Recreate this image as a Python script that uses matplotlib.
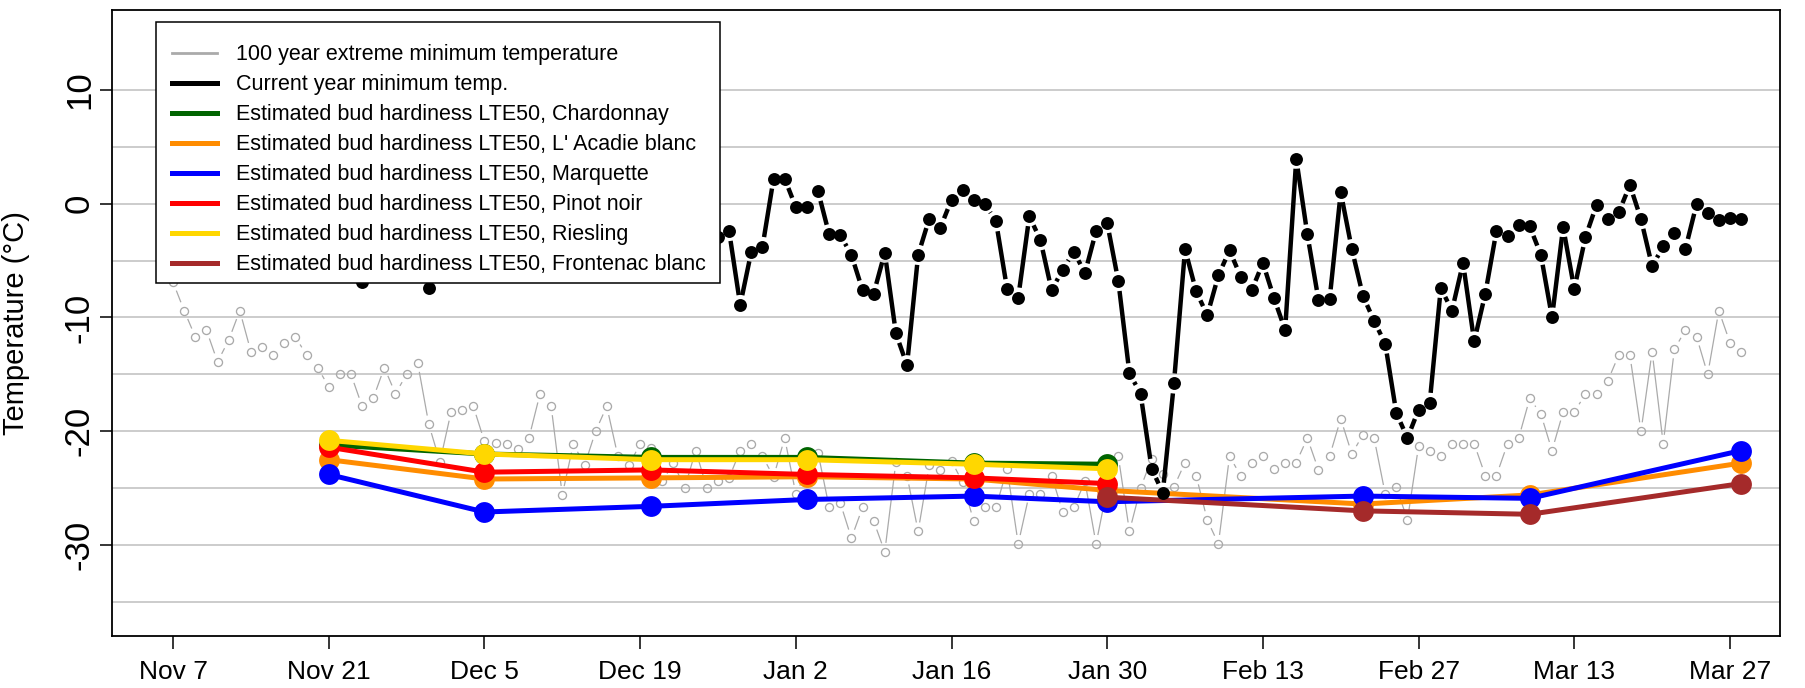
import numpy as np
import pandas as pd
import matplotlib
matplotlib.use("Agg")
import matplotlib.pyplot as plt
import matplotlib.dates as mdates
from matplotlib.lines import Line2D
from matplotlib.collections import LineCollection
from matplotlib.patches import Rectangle
from matplotlib.ticker import FixedLocator

plt.rcParams['font.family'] = ['Liberation Sans', 'DejaVu Sans']
plt.rcParams['axes.unicode_minus'] = False

# ---------------- data ----------------
start_date = "2022-11-07"

current_min = [
    -3.5, -1.2, 0.5, -2.0, -4.1, -5.5, -3.0, -1.5, 0.8, 2.1,
    -0.5, -3.2, -5.0, -6.2, -4.0, -2.2, -3.8, -6.9, -5.1, -2.5,
    -0.8, 1.0, -3.6, -7.4, -5.8, -3.1, -1.0, 0.4, -2.3, -4.6,
    -5.9, -3.4, -1.6, -2.8, -4.9, -6.0, -4.2, -2.1, -0.6, 1.5,
    -1.1, -3.5, -5.2, -4.0, -2.6, -1.4, -3.0, -4.4, -3.6, -2.9,
    -2.4, -8.9, -4.2, -3.8, 2.2, 2.2, -0.3, -0.3, 1.1, -2.7,
    -2.75, -4.5, -7.6, -7.9, -4.3, -11.4, -14.2, -4.5, -1.3, -2.1,
    0.35, 1.2, 0.35, 0.0, -1.55, -7.5, -8.25, -1.1, -3.2, -7.6,
    -5.8, -4.2, -6.1, -2.4, -1.7, -6.8, -14.9, -16.7, -23.3, -25.4,
    -15.8, -4.0, -7.7, -9.8, -6.3, -4.1, -6.4, -7.6, -5.2, -8.3,
    -11.1, 3.95, -2.7, -8.45, -8.4, 1.0, -4.0, -8.1, -10.3, -12.3,
    -18.4, -20.6, -18.1, -17.5, -7.4, -9.4, -5.2, -12.1, -7.9, -2.4,
    -2.8, -1.9, -2.0, -4.5, -10.0, -2.05, -7.5, -2.95, -0.1, -1.35,
    -0.76, 1.64, -1.35, -5.5, -3.75, -2.57, -3.95, -0.03, -0.79, -1.4,
    -1.25, -1.35,
]

extreme_min_100yr = [
    -6.9, -9.4, -11.7, -11.1, -13.9, -12.0, -9.4, -13.0, -12.6, -13.3,
    -12.2, -11.7, -13.3, -14.4, -16.1, -15.0, -15.0, -17.8, -17.1, -14.4,
    -16.7, -15.0, -14.0, -19.4, -22.7, -18.3, -18.1, -17.8, -20.9, -21.0,
    -21.1, -21.6, -20.6, -16.7, -17.8, -25.6, -21.1, -23.0, -20.0, -17.8,
    -22.2, -23.0, -21.1, -21.5, -24.4, -22.8, -25.0, -21.7, -25.0, -24.4,
    -24.1, -21.7, -21.1, -22.2, -24.0, -20.6, -25.5, -23.5, -21.9, -26.7,
    -26.3, -29.4, -26.7, -27.9, -30.6, -22.7, -23.9, -28.8, -23.0, -23.4,
    -22.6, -24.5, -27.9, -26.7, -26.7, -23.3, -29.9, -25.5, -25.5, -23.9,
    -27.1, -26.7, -24.4, -29.9, -25.0, -22.2, -28.8, -25.0, -22.4, -23.8,
    -24.9, -22.75, -23.9, -27.8, -29.9, -22.2, -23.9, -22.75, -22.2, -23.3,
    -22.75, -22.75, -20.6, -23.4, -22.2, -18.9, -22.0, -20.3, -20.6, -25.5,
    -24.9, -27.8, -21.3, -21.7, -22.2, -21.1, -21.1, -21.1, -23.9, -23.9,
    -21.1, -20.6, -17.1, -18.5, -21.7, -18.3, -18.3, -16.75, -16.75, -15.6,
    -13.3, -13.3, -20.0, -13.0, -21.1, -12.8, -11.1, -11.7, -15.0, -9.4,
    -12.2, -13.0,
]

hardiness_dates = ["2022-11-21", "2022-12-05", "2022-12-20", "2023-01-03",
                   "2023-01-18", "2023-01-30", "2023-02-22", "2023-03-09",
                   "2023-03-28"]
chardonnay = [-21.2, -22.0, -22.3, -22.3, -22.8, -22.9]
lacadie = [-22.5, -24.2, -24.1, -24.0, -24.2, -25.2, -26.4, -25.6, -22.8]
marquette = [-23.8, -27.1, -26.6, -26.0, -25.7, -26.2, -25.7, -25.9, -21.7]
pinot_noir = [-21.4, -23.6, -23.4, -23.8, -24.1, -24.6]
riesling = [-20.8, -22.0, -22.5, -22.5, -22.9, -23.3]
frontenac_dates = ["2023-01-30", "2023-02-22", "2023-03-09", "2023-03-28"]
frontenac = [-25.8, -27.0, -27.3, -24.6]

tick_dates = ["2022-11-07", "2022-11-21", "2022-12-05", "2022-12-19",
              "2023-01-02", "2023-01-16", "2023-01-30", "2023-02-13",
              "2023-02-27", "2023-03-13", "2023-03-27"]
tick_labels = ["Nov 7", "Nov 21", "Dec 5", "Dec 19", "Jan 2", "Jan 16",
               "Jan 30", "Feb 13", "Feb 27", "Mar 13", "Mar 27"]

legend_labels = [
    "100 year extreme minimum temperature",
    "Current year minimum temp.",
    "Estimated bud hardiness LTE50, Chardonnay",
    "Estimated bud hardiness LTE50, L' Acadie blanc",
    "Estimated bud hardiness LTE50, Marquette",
    "Estimated bud hardiness LTE50, Pinot noir",
    "Estimated bud hardiness LTE50, Riesling",
    "Estimated bud hardiness LTE50, Frontenac blanc",
]

# ---------------- figure ----------------
W, H = 1805, 688
fig = plt.figure(figsize=(W / 100, H / 100), dpi=100)
ax = fig.add_axes([112 / W, (H - 636) / H, (1780 - 112) / W, (636 - 10) / H])

t0 = pd.Timestamp(start_date)
days = pd.date_range(start_date, periods=len(current_min), freq="D")
xd = mdates.date2num(days)
x_ext = mdates.date2num(pd.date_range(start_date, periods=len(extreme_min_100yr), freq="D"))
xh = mdates.date2num(pd.to_datetime(hardiness_dates))
xf = mdates.date2num(pd.to_datetime(frontenac_dates))

x0 = mdates.date2num(t0)
ax.set_xlim(x0 - 5.49, x0 + 144.5)
ax.set_ylim(-38.0, 17.03)

# grid
ax.set_yticks([-30, -20, -10, 0, 10])
ax.yaxis.set_minor_locator(FixedLocator([-35, -25, -15, -5, 5]))
ax.grid(axis='y', which='both', color='#c8c8c8', lw=1.3)
ax.tick_params(axis='y', which='minor', length=0)
ax.set_axisbelow(True)


def gapped(xs, ys, gap, **kw):
    pts = ax.transData.transform(np.column_stack([xs, ys]))
    inv = ax.transData.inverted()
    segs = []
    for p0, p1 in zip(pts[:-1], pts[1:]):
        v = p1 - p0
        L = np.hypot(v[0], v[1])
        if L > 2 * gap:
            u = v / L
            seg = np.array([p0 + u * gap, p1 - u * gap])
            segs.append(inv.transform(seg))
    lc = LineCollection(segs, **kw)
    ax.add_collection(lc)


grey = '#aaaaaa'
# 100-year extreme minimum: thin line with open circles (gapped)
gapped(x_ext, extreme_min_100yr, 9, colors=grey, linewidths=0.9, zorder=2)
ax.plot(x_ext, extreme_min_100yr, 'o', ls='none', mfc='none', mec=grey,
        ms=5.8, mew=0.95, zorder=2.1)

# hardiness series
series = [
    (xh[:len(chardonnay)], chardonnay, '#006400'),
    (xh, lacadie, '#ff8c00'),
    (xh, marquette, '#0000ff'),
    (xh[:len(pinot_noir)], pinot_noir, '#ff0000'),
    (xh[:len(riesling)], riesling, '#ffd700'),
    (xf, frontenac, '#a52a2a'),
]
z = 3
for xs, ys, c in series:
    ax.plot(xs, ys, '-', color=c, lw=3.6, zorder=z)
    ax.plot(xs, ys, 'o', ls='none', color=c, ms=15, mec='none', zorder=z + 0.05)
    z += 0.1

# current year minimum (gapped black line with dots)
gapped(xd, current_min, 10, colors='black', linewidths=3.2, zorder=4,
       capstyle='butt')
ax.plot(xd, current_min, 'o', ls='none', color='black', ms=9.3, mec='none', zorder=4.1)

# axes styling
ax.set_xticks(mdates.date2num(pd.to_datetime(tick_dates)))
ax.set_xticklabels(tick_labels, fontsize=19)
ax.tick_params(axis='x', length=9.5, width=1.1, pad=8)
ax.tick_params(axis='y', which='major', length=8.6, width=1.1, pad=3, labelsize=25)
for lab in ax.get_yticklabels():
    lab.set_rotation(90)
    lab.set_va('center')
for s in ax.spines.values():
    s.set_linewidth(1.3)
    s.set_color('black')

ax.set_ylabel("Temperature (\u00b0C)", fontsize=21)
ax.yaxis.set_label_coords((30 - 112) / 1668, 0.5)

# legend frame (white box with black border)
frame = Rectangle((156 / W, 1 - 283 / H), (720 - 156) / W, (283 - 22) / H,
                  transform=fig.transFigure, facecolor='white',
                  edgecolor='black', lw=1.1, zorder=9, clip_on=False)
ax.add_patch(frame)

handles = [Line2D([], [], color=grey, lw=2.0),
           Line2D([], [], color='black', lw=3.6)]
for _, _, c in series:
    handles.append(Line2D([], [], color=c, lw=3.6))
leg = ax.legend(handles, legend_labels, loc='upper left',
                bbox_to_anchor=((156 - 112) / 1668, 1 - (28 - 10) / 626),
                borderaxespad=0, fontsize=15.5, frameon=False,
                handlelength=2.1, handletextpad=0.85, labelspacing=0.42,
                borderpad=0.75)
leg.set_zorder(10)

fig.savefig("out.png", dpi=100)
